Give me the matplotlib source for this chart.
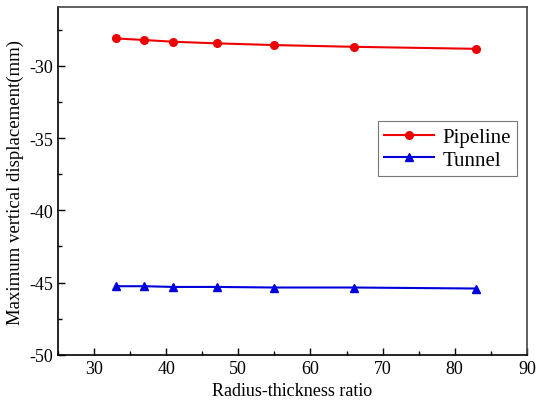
import numpy as np
import matplotlib
matplotlib.use('Agg')
import matplotlib.pyplot as plt
from matplotlib.ticker import MultipleLocator

plt.rcParams['font.family'] = ['Liberation Serif', 'DejaVu Serif']
plt.rcParams['axes.unicode_minus'] = False

# Radius-thickness ratio
ratio = [33, 37, 41, 47, 55, 66, 83]
# Maximum vertical displacement (mm)
pipeline = [-28.11, -28.22, -28.34, -28.45, -28.57, -28.69, -28.83]
tunnel = [-45.25, -45.25, -45.30, -45.30, -45.34, -45.34, -45.41]

fig = plt.figure(figsize=(5.36, 4.10), dpi=100)
ax = fig.add_axes([0.108, 0.132, 0.875, 0.848])

ax.plot(ratio, pipeline, color='#ee0000', marker='o', markersize=5.5,
        linewidth=1.5, label='Pipeline')
ax.plot(ratio, tunnel, color='#0000dd', marker='^', markersize=6,
        linewidth=1.5, label='Tunnel')

ax.set_xlim(25, 90)
ax.set_ylim(-50, -25.95)
ax.xaxis.set_major_locator(MultipleLocator(10))
ax.xaxis.set_minor_locator(MultipleLocator(5))
ax.yaxis.set_major_locator(MultipleLocator(5))
ax.yaxis.set_minor_locator(MultipleLocator(2.5))
ax.tick_params(which='major', direction='in', length=5, width=1, labelsize=13)
ax.tick_params(which='minor', direction='in', length=3, width=1)
ax.tick_params(top=False, right=False, which='both')
for s in ax.spines.values():
    s.set_linewidth(1.2)
ax.spines['right'].set_color('#444444')
ax.spines['top'].set_color('#444444')

ax.set_xlabel('Radius-thickness ratio', fontsize=13)
ax.set_ylabel('Maximum vertical displacement(mm)', fontsize=13.5, labelpad=4)

leg = ax.legend(loc='upper right', bbox_to_anchor=(0.979, 0.672), fontsize=15,
                frameon=True, fancybox=False, edgecolor='#555555',
                handlelength=2.4, borderpad=0.3, labelspacing=0.15,
                handletextpad=0.4, borderaxespad=0)
leg.get_frame().set_linewidth(0.8)

fig.savefig('out.png', dpi=100)
